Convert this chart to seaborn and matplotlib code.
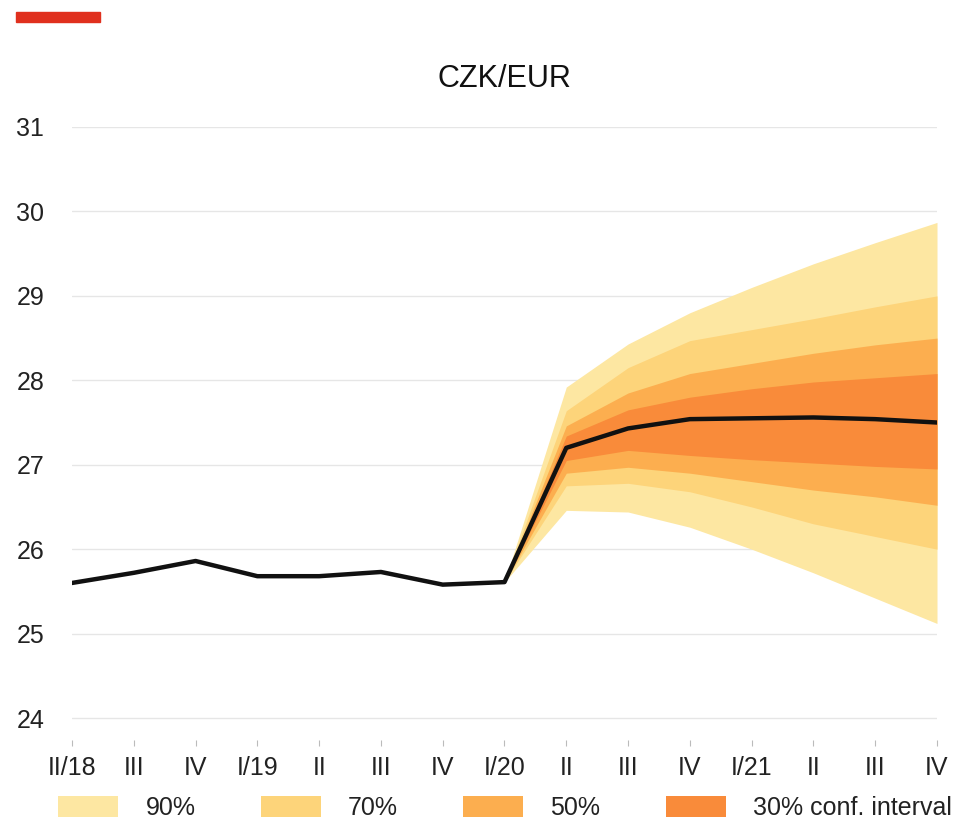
import numpy as np
import pandas as pd
import seaborn as sns
import matplotlib.pyplot as plt
from matplotlib.patches import Rectangle, Patch

# Quarterly labels and CZK/EUR history + baseline forecast
quarters = ["II/18", "III", "IV", "I/19", "II", "III", "IV", "I/20",
            "II", "III", "IV", "I/21", "II", "III", "IV"]
czk_eur = [25.60, 25.72, 25.86, 25.68, 25.68, 25.73, 25.58, 25.61,
           27.20, 27.43, 27.54, 27.55, 27.56, 27.54, 27.50]

# Fan chart bands, from I/20 to IV/21
fan_start = 7
upper90 = [25.61, 27.92, 28.43, 28.80, 29.10, 29.38, 29.63, 29.87]
lower90 = [25.61, 26.46, 26.44, 26.26, 26.00, 25.72, 25.42, 25.12]
upper70 = [25.61, 27.64, 28.15, 28.47, 28.60, 28.73, 28.87, 29.00]
lower70 = [25.61, 26.75, 26.78, 26.68, 26.50, 26.30, 26.15, 26.00]
upper50 = [25.61, 27.46, 27.85, 28.08, 28.20, 28.32, 28.42, 28.50]
lower50 = [25.61, 26.90, 26.97, 26.90, 26.80, 26.70, 26.62, 26.52]
upper30 = [25.61, 27.34, 27.65, 27.80, 27.90, 27.98, 28.03, 28.08]
lower30 = [25.61, 27.05, 27.17, 27.11, 27.06, 27.02, 26.98, 26.95]

band_labels = ["90%", "70%", "50%", "30% conf. interval"]
band_colors = ["#FDE7A2", "#FDD47A", "#FCAE4F", "#F98B3A"]

sns.set_theme(style="white")
plt.rcParams["font.family"] = ["Liberation Sans", "DejaVu Sans"]

fig = plt.figure(figsize=(9.54, 8.22), dpi=100)
ax = fig.add_axes([72 / 954, 1 - 740 / 822, (937 - 72) / 954, (740 - 127) / 822])

x = np.arange(len(quarters))
xf = x[fan_start:]
bands = [(lower90, upper90), (lower70, upper70), (lower50, upper50), (lower30, upper30)]
for (lo, hi), col in zip(bands, band_colors):
    ax.fill_between(xf, lo, hi, color=col, linewidth=0, zorder=2)

df = pd.DataFrame({"x": x, "value": czk_eur})
sns.lineplot(data=df, x="x", y="value", ax=ax, color="#111111", linewidth=3.2, zorder=3)

ax.set_xlim(0, len(quarters) - 1)
ax.set_ylim(23.74, 31)
ax.set_yticks(range(24, 32))
ax.set_yticklabels([str(v) for v in range(24, 32)])
ax.set_xticks(x)
ax.set_xticklabels(quarters)
ax.set_xlabel("")
ax.set_ylabel("")

ax.grid(axis="y", color="#e6e6e6", linewidth=1.0)
ax.set_axisbelow(True)
for s in ax.spines.values():
    s.set_visible(False)

ax.tick_params(axis="x", bottom=True, length=4.5, width=0.8, color="#bbbbbb",
               direction="out", pad=7, labelsize=18, labelcolor="#222222")
ax.tick_params(axis="y", left=False, pad=14, labelsize=18, labelcolor="#222222")

ax.set_title("CZK/EUR", fontsize=22, color="#111111", pad=29)

# red accent bar in top-left corner
fig.patches.append(Rectangle((16 / 954, 1 - 22 / 822), 84 / 954, 10 / 822,
                             transform=fig.transFigure, color="#E0301E", zorder=5))

handles = [Patch(facecolor=c, edgecolor="none") for c in band_colors]
fig.legend(handles, band_labels, loc="lower left", ncol=4,
           bbox_to_anchor=(58 / 954, 2 / 822), frameon=False, fontsize=18,
           handlelength=2.4, handleheight=0.9, handletextpad=1.1,
           columnspacing=2.6, borderpad=0, borderaxespad=0, labelcolor="#222222")

fig.savefig("out.png", dpi=100)
